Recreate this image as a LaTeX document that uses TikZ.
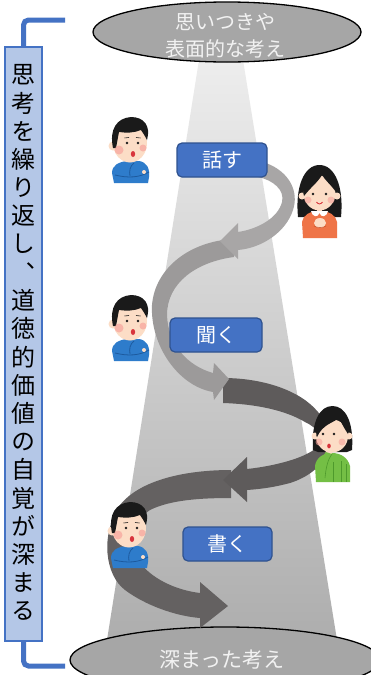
\documentclass[tikz,border=0pt]{standalone}
\usepackage{fontspec}
\newfontfamily\jp{Noto Sans CJK JP}
\newfontfamily\jpv[RawFeature=+vert]{Noto Sans CJK JP}
\usetikzlibrary{shapes.geometric}

\definecolor{accent}{HTML}{4472C4}
\definecolor{accentdark}{HTML}{2F528F}
\definecolor{panel}{HTML}{B4C7E7}
\definecolor{thought}{HTML}{A6A6A6}
\definecolor{thoughttext}{HTML}{F2F2F2}
\definecolor{arrowA}{HTML}{A8A6A6}
\definecolor{arrowB}{HTML}{9C9A9A}
\definecolor{arrowC}{HTML}{5E5B5B}
\definecolor{arrowD}{HTML}{646161}
\definecolor{skin}{HTML}{FCDDC6}
\definecolor{cheek}{HTML}{F7A49C}
\definecolor{hair}{HTML}{1A1A1A}
\definecolor{lip}{HTML}{D8343C}
\definecolor{shirtblue}{HTML}{2E7CCB}
\definecolor{shirtdark}{HTML}{1D5A9E}
\definecolor{dressorange}{HTML}{EF7447}
\definecolor{dressdark}{HTML}{C9532A}
\definecolor{shirtgreen}{HTML}{74BF45}
\definecolor{greendark}{HTML}{4E9A2C}

\tikzset{
  thoughtbubble/.style={ellipse, draw=black, line width=1.3pt, fill=thought, inner sep=0pt},
  thoughtlabel/.style={text=thoughttext, font=\jp\fontsize{20pt}{27pt}\selectfont,
    align=center, inner sep=0pt},
  verb/.style={rectangle, rounded corners=5pt, draw=accentdark, line width=1.2pt,
    fill=accent, text=white, font=\jp\fontsize{20pt}{24pt}\selectfont,
    minimum height=34pt, inner sep=0pt},
  vchar/.style={font=\jpv\fontsize{24pt}{28pt}\selectfont, text=black, inner sep=0pt},
  bracket/.style={draw=accent, line width=5pt, rounded corners=5pt},
  % a boy thinking, hand on chin
  boy/.pic={
    \fill[shirtblue] (7,66) -- (5,56) .. controls (5,48) and (12,45) .. (20,44) -- (32,44)
      .. controls (40,45) and (43,52) .. (42,60) -- (41,66) -- cycle;
    \draw[shirtdark, line width=0.8pt] (8,58) .. controls (20,61) and (32,61) .. (42,55);
    \draw[shirtdark, line width=0.8pt] (23,59) .. controls (22,54) and (23,49) .. (27,46);
    \fill[skin] (37,55) circle (2);
    \fill[skin] (6,29) circle (4.5);
    \fill[skin] (23,26) ellipse (17 and 19.5);
    \fill[hair] (6,31) .. controls (2,12) and (10,1) .. (24,0) .. controls (37,0) and (44,9) .. (40,23)
      .. controls (38,19) and (36,16) .. (34,13) .. controls (27,16) and (19,16) .. (12,15)
      .. controls (11,20) and (10,26) .. (9,31) -- cycle;
    \fill[cheek, opacity=.7] (12,33) circle (4.5) (36,31) circle (3.5);
    \fill[hair] (20,26) circle (1.4) (31,26) circle (1.4);
    \draw[hair, line width=0.6pt] (17.5,21) -- (22,20.5) (29,20.5) -- (33.5,21);
    \fill[lip] (26,37) ellipse (2.2 and 3);
  },
  % a girl with long hair, hand on chest
  girlA/.pic={
    \fill[hair] (1,52) .. controls (-2,22) and (7,0) .. (22.5,0) .. controls (38,0) and (47,22) .. (44,52) -- cycle;
    \fill[dressorange] (6,73) -- (5,57) .. controls (6,50) and (13,46) .. (22.5,46)
      .. controls (32,46) and (39,50) .. (40,57) -- (40,73) -- cycle;
    \fill[skin] (20,42) rectangle (25,48);
    \fill[white] (14,46) .. controls (15,52) and (21,53) .. (22.5,48) .. controls (24,53) and (30,52) .. (31,46) -- cycle;
    \fill[skin] (5,31) circle (3.5) (40,31) circle (3.5);
    \fill[skin] (22.5,28) ellipse (16 and 17.5);
    \fill[hair] (6.5,29) .. controls (4,10) and (14,3) .. (23,3) .. controls (33,3) and (42,11) .. (39,27)
      .. controls (34,20) and (28,15) .. (25,10) .. controls (21,17) and (14,22) .. (7,31) -- cycle;
    \fill[cheek, opacity=.6] (11,35) circle (3.5) (34,35) circle (3.5);
    \fill[hair] (16,29) circle (1.4) (29,29) circle (1.4);
    \draw[lip, line width=0.9pt] (19.5,37) .. controls (21,39.5) and (24,39.5) .. (25.5,37);
    \fill[skin] (23,58) ellipse (6 and 5);
    \draw[dressdark, line width=0.6pt] (17,61) .. controls (20,63) and (26,63) .. (29,61);
  },
  % a girl with a bob, hand on chin
  girlB/.pic={
    \fill[hair] (2,44) .. controls (0,15) and (9,0) .. (21.5,0) .. controls (34,0) and (43,15) .. (41,44)
      -- (36,46) -- (7,46) -- cycle;
    \fill[shirtgreen] (5,76) -- (4,60) .. controls (5,52) and (12,47) .. (21,47)
      .. controls (30,47) and (37,52) .. (39,60) -- (39,76) -- cycle;
    \draw[greendark, line width=0.6pt] (22,56) -- (22,76) (30,55) -- (30,76) (35,58) -- (35,76);
    \fill[skin] (4,30) circle (3.5) (38,30) circle (3.5);
    \fill[skin] (21,30) ellipse (16 and 16.5);
    \fill[skin] (18,46) ellipse (3.5 and 2.5);
    \fill[shirtgreen] (6,68) .. controls (8,57) and (11,50) .. (15,46) -- (21,48)
      .. controls (17,53) and (15,61) .. (14,72) -- cycle;
    \draw[greendark, line width=0.6pt] (14,72) .. controls (15,61) and (17,53) .. (21,48);
    \fill[hair] (5.5,30) .. controls (3,10) and (12,3) .. (21,3) .. controls (31,3) and (40,10) .. (37,28)
      .. controls (33,22) and (30,16) .. (28,12) .. controls (22,17) and (12,18) .. (6,31) -- cycle;
    \fill[cheek, opacity=.6] (8,36) circle (3.5) (31,36) circle (3.5);
    \fill[hair] (12,28) circle (1.4) (23,28) circle (1.4);
    \fill[lip] (18,40) ellipse (1.8 and 2.4);
  }
}

\begin{document}
\begin{tikzpicture}[x=1pt, y=-1pt]
\useasboundingbox (0,0) rectangle (370,675);
\fill[white] (0,0) rectangle (370,675);

% cone of light widening downwards
\shade[top color=black!7, bottom color=black!32]
  (199,60) -- (243,60) -- (337,640) -- (107,640) -- cycle;

% thought levels
\node[thoughtbubble, minimum width=268pt, minimum height=60pt] (shallow) at (227,32) {};
\node[thoughtlabel] (shallowtext) at (225,36) {思いつきや\\表面的な考え};
\node[thoughtbubble, minimum width=310pt, minimum height=66pt] (deep) at (225,660) {};
\node[thoughtlabel, font=\jp\fontsize{21pt}{27pt}\selectfont] (deeptext) at (222,660) {深まった考え};

% curved block arrows spiralling downwards
\fill[arrowD] (231,470) .. controls (185,470) and (140,480) .. (120,505)
  .. controls (100,535) and (105,575) .. (125,590) .. controls (145,605) and (175,616) .. (200,618)
  -- (200,628) -- (228,606) -- (200,582) -- (200,593)
  .. controls (175,590) and (150,578) .. (138,560) .. controls (128,540) and (135,520) .. (150,510)
  .. controls (170,500) and (200,498) .. (231,498) -- cycle;
\fill[arrowC] (223,378) .. controls (262,378) and (300,390) .. (318,412)
  .. controls (345,440) and (325,472) .. (290,483) .. controls (275,487) and (262,489) .. (247,490)
  -- (247,502) -- (223,480) -- (247,457) -- (247,469)
  .. controls (275,466) and (305,458) .. (316,448) .. controls (325,438) and (318,428) .. (305,422)
  .. controls (285,410) and (255,404) .. (223,403) -- cycle;
\fill[arrowB] (234,239) .. controls (190,241) and (155,268) .. (152,305)
  .. controls (150,345) and (178,386) .. (213,392)
  -- (214,400) -- (229,379) -- (214,363) -- (213,373)
  .. controls (188,366) and (168,345) .. (167,315) .. controls (167,283) and (196,262) .. (234,257) -- cycle;
\fill[arrowA] (266,163) .. controls (290,172) and (299,192) .. (293,210)
  .. controls (286,232) and (262,248) .. (238,250)
  -- (238,259) -- (220,241) -- (238,223) -- (238,232)
  .. controls (258,229) and (278,218) .. (282,202) .. controls (285,190) and (273,180) .. (258,177) -- cycle;

% activities
\node[verb, minimum width=90pt] (talk) at (222,160) {話す};
\node[verb, minimum width=92pt] (listen) at (216,335) {聞く};
\node[verb, minimum width=89pt] (write) at (227.5,544) {書く};

% pupils
\pic (boyA) at (107,117) {boy};
\pic (girlone) at (297,165) {girlA};
\pic (boyB) at (107,295) {boy};
\pic (girltwo) at (311,406) {girlB};
\pic (boyC) at (106,502) {boy};

% vertical caption with its bracket
\node[rectangle, draw=accent, line width=1.4pt, fill=panel, minimum width=37pt,
  minimum height=594pt, inner sep=0pt] (caption) at (23.5,344) {};
\draw[bracket] (caption.north) |- (65,20);
\draw[bracket] (caption.south) |- (65,666);
\foreach \ch [count=\i] in {思,考,を,繰,り,返,し,、,道,徳,的,価,値,の,自,覚,が,深,ま,る}
  \node[vchar] (ch\i) at (23.5,{75+(\i-1)*28.2}) {\ch};
\end{tikzpicture}
\end{document}
